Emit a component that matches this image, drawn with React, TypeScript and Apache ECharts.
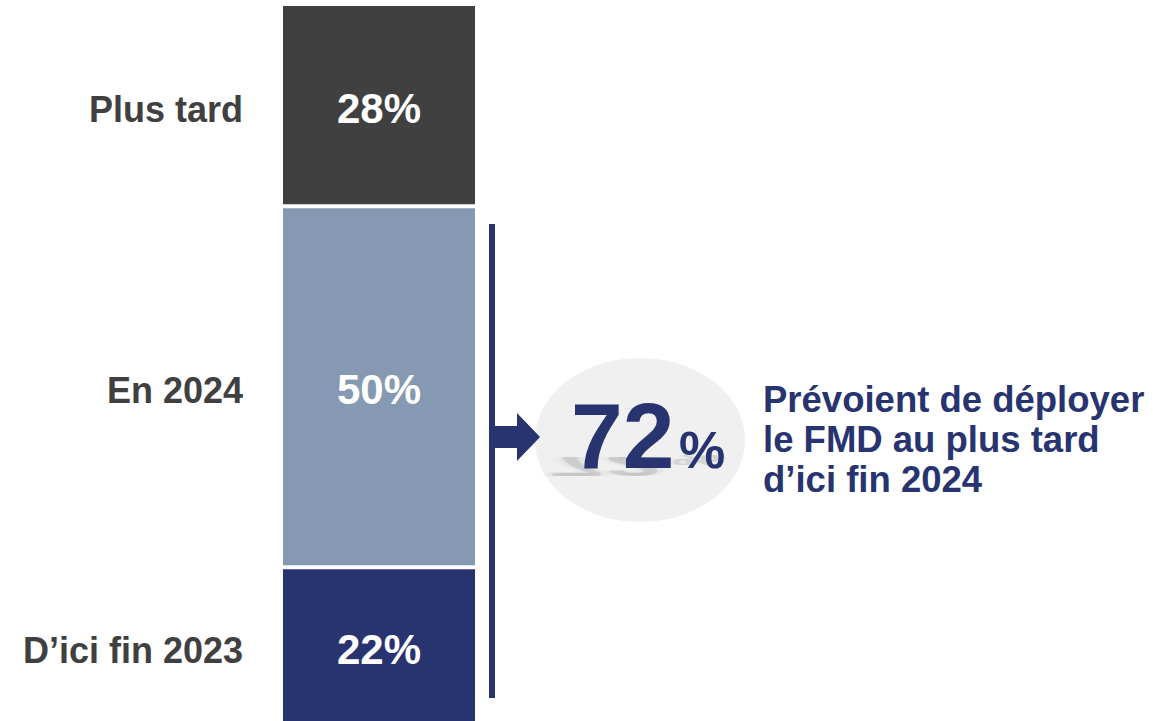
import React, { useEffect, useRef } from "react";
import * as echarts from "echarts";

const categories = ["D’ici fin 2023", "En 2024", "Plus tard"];
const values = [22, 50, 28];
const colors = ["#27346f", "#8599b3", "#404040"];
const highlightValue = "72";
const highlightText = "Prévoient de déployer\nle FMD au plus tard\nd’ici fin 2024";

const NAVY = "#27346f";
const FONT = "'Liberation Sans', Arial, Helvetica, sans-serif";

export default function App() {
  const ref = useRef<HTMLDivElement>(null);
  useEffect(() => {
    if (!ref.current) return;
    const chart = echarts.init(ref.current, undefined, { renderer: "svg" });
    const valueSeries = categories.map((name, i) => ({
      name,
      type: "bar",
      stack: "v",
      barWidth: "100%",
      data: [values[i]],
      itemStyle: { color: colors[i], borderColor: "#ffffff", borderWidth: 2 },
      label: {
        show: true,
        position: "inside",
        offset: [0, 3],
        formatter: "{c}%",
        color: "#ffffff",
        fontSize: 42,
        fontWeight: "bold",
        fontFamily: FONT,
      },
    }));
    const nameSeries = categories.map((name, i) => ({
      name: name + " ",
      type: "bar",
      stack: "n",
      barWidth: "100%",
      barGap: "-100%",
      data: [values[i]],
      itemStyle: { color: "rgba(0,0,0,0)", borderWidth: 0 },
      silent: true,
      label: {
        show: true,
        position: [-38, "50%"],
        offset: [0, 4],
        align: "right",
        verticalAlign: "middle",
        formatter: name,
        color: "#404040",
        fontSize: 36,
        fontWeight: "bold",
        fontFamily: FONT,
      },
    }));
    chart.setOption({
      animation: false,
      backgroundColor: "#ffffff",
      grid: { left: 281, width: 196, top: 4, height: 722 },
      xAxis: { type: "category", data: [""], show: false },
      yAxis: { type: "value", min: 0, max: 100, show: false },
      series: [...valueSeries, ...nameSeries],
      graphic: [
        { type: "rect", shape: { x: 489, y: 224, width: 6, height: 474 }, style: { fill: NAVY } },
        {
          type: "ellipse",
          shape: { cx: 640, cy: 440, rx: 105, ry: 82 },
          style: { fill: "#f0f0f0" },
        },
        {
          type: "polygon",
          shape: {
            points: [
              [495, 426],
              [517, 426],
              [517, 413],
              [540, 437],
              [517, 461],
              [517, 448],
              [495, 448],
            ],
          },
          style: { fill: NAVY },
        },
        {
          type: "text",
          x: 548,
          y: 453,
          scaleY: -0.3,
          scaleX: 1.12,
          style: {
            text: highlightValue,
            font: `bold 92px ${FONT}`,
            fill: "rgba(60,60,60,0.12)",
            verticalAlign: "bottom",
            textShadowBlur: 14,
            textShadowColor: "rgba(50,50,50,1)",
          },
        },
        {
          type: "text",
          x: 672,
          y: 453,
          scaleY: -0.3,
          scaleX: 1.1,
          style: {
            text: "%",
            font: `bold 50px ${FONT}`,
            fill: "rgba(60,60,60,0.1)",
            verticalAlign: "bottom",
            textShadowBlur: 10,
            textShadowColor: "rgba(50,50,50,1)",
          },
        },
        {
          type: "text",
          x: 571,
          y: 436,
          style: {
            text: highlightValue,
            font: `bold 93px ${FONT}`,
            fill: NAVY,
            verticalAlign: "middle",
          },
        },
        {
          type: "text",
          x: 679,
          y: 450,
          style: {
            text: "%",
            font: `bold 52px ${FONT}`,
            fill: NAVY,
            verticalAlign: "middle",
          },
        },
        {
          type: "text",
          x: 763,
          y: 439,
          style: {
            text: highlightText,
            font: `bold 36.5px ${FONT}`,
            lineHeight: 40,
            fill: NAVY,
            verticalAlign: "middle",
          },
        },
      ],
    });
    return () => chart.dispose();
  }, []);
  return (
    <div style={{ position: "fixed", left: 0, top: 0, width: 1153, height: 721, overflow: "hidden" }}>
      <div ref={ref} style={{ width: 1153, height: 740 }} />
    </div>
  );
}
